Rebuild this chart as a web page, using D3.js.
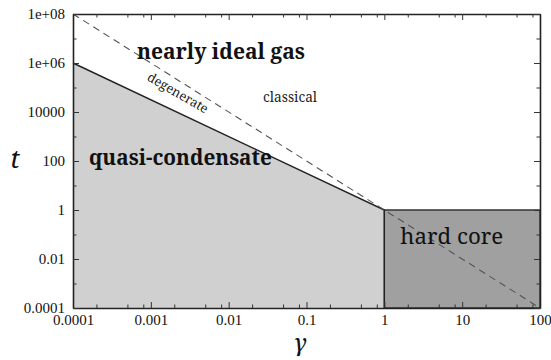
<!DOCTYPE html>
<html>
<head>
<meta charset="utf-8">
<script src="https://cdn.jsdelivr.net/npm/d3@7"></script>
<style>
  html, body { margin: 0; padding: 0; background: #fff; }
  svg { display: block; }
</style>
</head>
<body>
<svg id="chart" width="551" height="360"></svg>
<script>
// Axis domains and tick values (log scales)
const gammaDomain = [1e-4, 100];
const tDomain = [1e-4, 1e8];
const xTickValues = [1e-4, 1e-3, 1e-2, 1e-1, 1, 10, 100];
const xTickLabels = ["0.0001", "0.001", "0.01", "0.1", "1", "10", "100"];
const yTickValues = [1e-4, 1e-2, 1, 100, 1e4, 1e6, 1e8];
const yTickLabels = ["0.0001", "0.01", "1", "100", "10000", "1e+06", "1e+08"];
const yMinorValues = [1e-3, 1e-1, 10, 1e3, 1e5, 1e7];
const xMinorFactors = [2, 5, 8];

// Regime boundaries (gamma, t)
const quasiCondensate = [[1e-4, 1e-4], [1e-4, 1e6], [1, 1], [1, 1e-4]];   // t < gamma^(-3/2), gamma < 1
const hardCore = [[1, 1e-4], [1, 1], [100, 1], [100, 1e-4]];               // gamma > 1, t < 1
const degenerateLine = [[1e-4, 1e8], [100, 1e-4]];                         // t = gamma^(-2)

// Region names
const regionNames = ["nearly ideal gas", "quasi-condensate", "hard core", "classical", "degenerate"];

const W = 551, H = 360;
const margin = { left: 73, right: 11, top: 14, bottom: 52 };
const svg = d3.select("#chart");

const x = d3.scaleLog().domain(gammaDomain).range([margin.left, W - margin.right]);
const y = d3.scaleLog().domain(tDomain).range([H - margin.bottom, margin.top]);
const line = d3.line().x(d => x(d[0])).y(d => y(d[1]));

const tickFont = '"Liberation Serif", serif';
const labelFont = '"Noto Serif", "DejaVu Serif", serif';

// Filled regions
svg.append("path").attr("d", line(quasiCondensate) + "Z")
  .attr("fill", "#d0d0d0").attr("stroke", "none");
svg.append("path").attr("d", line(hardCore) + "Z")
  .attr("fill", "#a0a0a0").attr("stroke", "#333").attr("stroke-width", 1.3);

// Quasi-condensate boundary
svg.append("path").attr("d", line([[1e-4, 1e6], [1, 1], [1, 1e-4]]))
  .attr("fill", "none").attr("stroke", "#222").attr("stroke-width", 1.4);

// Degenerate / classical crossover
svg.append("path").attr("d", line(degenerateLine))
  .attr("fill", "none").attr("stroke", "#555").attr("stroke-width", 1.1)
  .attr("stroke-dasharray", "7,5");

// Axes with inward ticks on all four sides
const fmtX = d => xTickLabels[xTickValues.indexOf(d)];
const fmtY = d => yTickLabels[yTickValues.indexOf(d)];
const xMinor = [];
xTickValues.slice(0, -1).forEach(v => xMinorFactors.forEach(f => xMinor.push(v * f)));

function styleAxis(g) {
  g.attr("font-family", null).attr("font-size", null);
  g.select(".domain").attr("stroke", "#222").attr("stroke-width", 1.6);
  g.selectAll(".tick line").attr("stroke", "#333").attr("stroke-width", 1);
  g.selectAll("text").style("font-family", tickFont).style("font-size", "15px").attr("fill", "#111");
}

styleAxis(svg.append("g").attr("transform", `translate(0,${H - margin.bottom})`)
  .call(d3.axisBottom(x).tickValues(xTickValues).tickFormat(fmtX).tickSizeInner(-6).tickSizeOuter(0).tickPadding(6)));
styleAxis(svg.append("g").attr("transform", `translate(0,${margin.top})`)
  .call(d3.axisTop(x).tickValues(xTickValues).tickFormat("").tickSizeInner(-6).tickSizeOuter(0)));
styleAxis(svg.append("g").attr("transform", `translate(${margin.left},0)`)
  .call(d3.axisLeft(y).tickValues(yTickValues).tickFormat(fmtY).tickSizeInner(-6).tickSizeOuter(0).tickPadding(8)));
styleAxis(svg.append("g").attr("transform", `translate(${W - margin.right},0)`)
  .call(d3.axisRight(y).tickValues(yTickValues).tickFormat("").tickSizeInner(-6).tickSizeOuter(0)));

// Minor ticks
[[d3.axisBottom, H - margin.bottom], [d3.axisTop, margin.top]].forEach(([ax, pos]) => {
  const g = svg.append("g").attr("transform", `translate(0,${pos})`)
    .call(ax(x).tickValues(xMinor).tickFormat("").tickSizeInner(-3.5).tickSizeOuter(0));
  g.select(".domain").remove();
  g.selectAll(".tick line").attr("stroke", "#333");
});
[[d3.axisLeft, margin.left], [d3.axisRight, W - margin.right]].forEach(([ax, pos]) => {
  const g = svg.append("g").attr("transform", `translate(${pos},0)`)
    .call(ax(y).tickValues(yMinorValues).tickFormat("").tickSizeInner(-3.5).tickSizeOuter(0));
  g.select(".domain").remove();
  g.selectAll(".tick line").attr("stroke", "#333");
});

// Text scaled so that it spans a given width
function fitText(sel, width) {
  const len = sel.node().getComputedTextLength();
  sel.style("font-size", (20 * width / len).toFixed(2) + "px");
  return sel;
}
function regionLabel(name, g, t, bold, width) {
  const s = svg.append("text").attr("x", x(g)).attr("y", y(t))
    .style("font-family", labelFont).style("font-weight", bold ? "bold" : "normal")
    .style("font-size", "20px").attr("fill", "#111").text(name);
  return fitText(s, width);
}

regionLabel(regionNames[0], 6.65e-4, 1.45e6, true, 168);
regionLabel(regionNames[1], 1.6e-4, 69, true, 183);
regionLabel(regionNames[2], 1.6, 0.041, false, 103);
regionLabel(regionNames[3], 0.0277, 2.6e4, false, 54).attr("fill", "#222");

// "degenerate" written along the quasi-condensate boundary
const deg = svg.append("text")
  .attr("transform", `translate(${x(2.24e-3)},${y(6.3e4)}) rotate(30)`)
  .attr("text-anchor", "middle").attr("dominant-baseline", "central")
  .style("font-family", labelFont).style("font-size", "20px").attr("fill", "#222")
  .text(regionNames[4]);
fitText(deg, 68);

// Axis titles
svg.append("text").attr("x", 15).attr("y", 168).attr("text-anchor", "middle")
  .style("font-family", labelFont).style("font-style", "italic").style("font-size", "26px")
  .attr("fill", "#111").text("t");
svg.append("text").attr("x", 300).attr("y", 351).attr("text-anchor", "middle")
  .style("font-family", labelFont).style("font-style", "italic").style("font-size", "24px")
  .attr("fill", "#111").text("γ");
</script>
</body>
</html>
